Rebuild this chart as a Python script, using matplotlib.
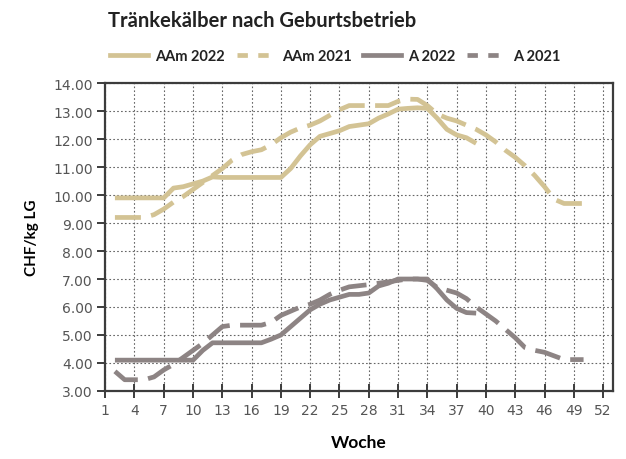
import numpy as np
import matplotlib.pyplot as plt
from matplotlib.lines import Line2D

# weeks and prices (CHF/kg LG)
weeks_2022 = list(range(2, 40))
weeks_2021 = list(range(2, 51))

aam_2022 = [9.9, 9.9, 9.9, 9.9, 9.9, 9.9, 10.25, 10.3, 10.4, 10.5,
            10.65, 10.63, 10.63, 10.63, 10.63, 10.63, 10.63, 10.63, 10.95, 11.4,
            11.8, 12.1, 12.2, 12.3, 12.45, 12.5, 12.55, 12.75, 12.9, 13.07,
            13.1, 13.12, 13.1, 12.75, 12.35, 12.15, 12.05, 11.85]

aam_2021 = [9.2, 9.2, 9.2, 9.2, 9.3, 9.5, 9.75, 9.95, 10.2, 10.45,
            10.7, 10.95, 11.25, 11.45, 11.55, 11.62, 11.8, 12.05, 12.25, 12.4,
            12.5, 12.65, 12.85, 13.05, 13.2, 13.2, 13.2, 13.2, 13.2, 13.35,
            13.43, 13.42, 13.2, 12.9, 12.75, 12.65, 12.5, 12.35, 12.15, 11.9,
            11.6, 11.35, 11.05, 10.7, 10.3, 9.85, 9.7, 9.7, 9.7]

a_2022 = [4.1, 4.1, 4.1, 4.1, 4.1, 4.1, 4.1, 4.1, 4.1, 4.45,
          4.72, 4.72, 4.72, 4.72, 4.72, 4.72, 4.85, 5.0, 5.3, 5.6,
          5.9, 6.1, 6.25, 6.35, 6.45, 6.45, 6.5, 6.75, 6.85, 7.0,
          7.0, 7.0, 7.0, 6.65, 6.25, 5.95, 5.8, 5.78]

a_2021 = [3.7, 3.4, 3.4, 3.4, 3.5, 3.75, 3.95, 4.2, 4.45, 4.7,
          5.0, 5.3, 5.35, 5.35, 5.35, 5.35, 5.45, 5.7, 5.85, 6.0,
          6.1, 6.25, 6.45, 6.6, 6.72, 6.76, 6.8, 6.85, 6.9, 6.95,
          7.0, 7.0, 6.95, 6.7, 6.6, 6.5, 6.3, 6.0, 5.75, 5.5,
          5.2, 4.9, 4.55, 4.45, 4.38, 4.25, 4.12, 4.12, 4.12]

beige = '#d3c394'
grey = '#8d8484'
dark = '#3c3c3c'
lw = 3.4
dash = (0, (5.5, 2.2))

fig = plt.figure(figsize=(6.26, 4.6), dpi=100)
ax = fig.add_axes([0.168, 0.148, 0.811, 0.669])

ax.plot(weeks_2021, aam_2021, color=beige, lw=lw, ls=dash, zorder=3)
ax.plot(weeks_2021, a_2021, color=grey, lw=lw, ls=dash, zorder=3)
ax.plot(weeks_2022, aam_2022, color=beige, lw=lw, zorder=4, solid_capstyle='butt')
ax.plot(weeks_2022, a_2022, color=grey, lw=lw, zorder=4, solid_capstyle='butt')

ax.set_xlim(1, 53)
ax.set_ylim(3, 14)
ax.set_xticks(np.arange(1, 53, 3))
ax.set_yticks(np.arange(3, 14.01, 1))
ax.set_yticklabels(['%.2f' % v for v in np.arange(3, 14.01, 1)])

ax.grid(True, color='#666666', lw=0.8, ls=(0, (1.5, 2)), zorder=1)
for s in ax.spines.values():
    s.set_color(dark)
    s.set_linewidth(1.6)
ax.tick_params(axis='both', colors=dark, labelsize=10, width=1.4)
ax.tick_params(axis='y', direction='out', length=6, pad=3, labelcolor='#555555')
ax.tick_params(axis='x', direction='inout', length=10, pad=4, labelcolor='#555555')

ax.set_xlabel('Woche', fontsize=12.5, fontweight='bold', family='Lato', labelpad=12)
ax.set_ylabel('CHF/kg LG', fontsize=11, fontweight='bold', family='Lato', labelpad=10)

fig.text(108 / 626, 1 - 21 / 460, 'Tränkekälber nach Geburtsbetrieb', fontsize=14.5,
         fontweight='bold', family='Lato', color='#222222', va='center', ha='left')

handles = [Line2D([], [], color=beige, lw=lw),
           Line2D([], [], color=beige, lw=lw, ls=(0, (2.2, 2.2))),
           Line2D([], [], color=grey, lw=lw),
           Line2D([], [], color=grey, lw=lw, ls=(0, (2.2, 2.2)))]
labels = ['AAm 2022', 'AAm 2021', 'A 2022', 'A 2021']
leg = fig.legend(handles, labels, loc='center left', bbox_to_anchor=(0.155, 1 - 57 / 460),
                 ncol=4, frameon=False, handlelength=2.6, handletextpad=0.5,
                 columnspacing=0.8, prop={'family': 'Lato', 'weight': 'bold', 'size': 10.5})
for t in leg.get_texts():
    t.set_color('#222222')

fig.savefig('out.png', dpi=100)
